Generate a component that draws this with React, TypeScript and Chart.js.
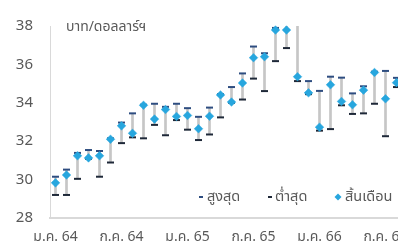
import React, { useEffect, useRef } from 'react';
import { Chart, registerables } from 'chart.js';

Chart.register(...registerables);

const months = [
  'ม.ค. 64', 'ก.พ. 64', 'มี.ค. 64', 'เม.ย. 64', 'พ.ค. 64', 'มิ.ย. 64',
  'ก.ค. 64', 'ส.ค. 64', 'ก.ย. 64', 'ต.ค. 64', 'พ.ย. 64', 'ธ.ค. 64',
  'ม.ค. 65', 'ก.พ. 65', 'มี.ค. 65', 'เม.ย. 65', 'พ.ค. 65', 'มิ.ย. 65',
  'ก.ค. 65', 'ส.ค. 65', 'ก.ย. 65', 'ต.ค. 65', 'พ.ย. 65', 'ธ.ค. 65',
  'ม.ค. 66', 'ก.พ. 66', 'มี.ค. 66', 'เม.ย. 66', 'พ.ค. 66', 'มิ.ย. 66',
  'ก.ค. 66', 'ส.ค. 66',
];

const highs = [
  30.15, 30.52, 31.39, 31.54, 31.49, 32.15,
  32.97, 33.45, 33.9, 33.95, 33.79, 33.95,
  33.72, 33.27, 33.75, 34.45, 34.82, 35.53,
  36.93, 36.58, 37.9, 38.3, 38.4, 35.13,
  34.62, 35.36, 35.31, 34.49, 34.86, 35.62,
  35.66, 35.3,
];

const lows = [
  29.2, 29.2, 30.04, 31.08, 30.15, 30.89,
  31.9, 32.2, 32.15, 32.85, 32.31, 33.1,
  32.6, 32.06, 32.35, 33.24, 34.0, 34.17,
  35.26, 34.61, 36.17, 36.85, 35.13, 34.45,
  32.55, 32.63, 33.87, 33.42, 33.45, 33.95,
  32.26, 34.82,
];

const closes = [
  29.83, 30.24, 31.24, 31.13, 31.24, 32.1,
  32.8, 32.41, 33.87, 33.15, 33.65, 33.29,
  33.34, 32.65, 33.3, 34.41, 34.04, 35.03,
  36.35, 36.4, 37.79, 37.79, 35.36, 34.52,
  32.73, 34.94, 34.07, 33.9, 34.66, 35.58,
  34.21, 35.05,
];

const yTicks = [28, 30, 32, 34, 36, 38];
const unitLabel = 'บาท/ดอลลาร์ฯ';
const legendLabels = ['สูงสุด', 'ต่ำสุด', 'สิ้นเดือน'];

const FONT = "'Noto Sans', 'Noto Sans Thai', 'Open Sans', sans-serif";
const TEXT = '#595959';
const C_HIGH = '#2e4d80';
const C_LOW = '#1e2838';
const C_CLOSE = '#27a6de';
const C_RANGE = '#c6c6c6';

const overlay = {
  id: 'overlay',
  afterDraw(chart: any) {
    const { ctx, chartArea } = chart;
    ctx.save();
    ctx.font = `14px ${FONT}`;
    ctx.fillStyle = TEXT;
    ctx.textBaseline = 'middle';
    ctx.textAlign = 'left';
    ctx.fillText(unitLabel, chartArea.left + 16, chartArea.top + 1);

    ctx.font = `14.5px ${FONT}`;
    const ly = chartArea.bottom - 21;
    const l = chartArea.left;
    // high
    ctx.fillStyle = C_HIGH;
    ctx.fillRect(l + 149, ly - 1, 4, 2);
    ctx.fillStyle = TEXT;
    ctx.fillText(legendLabels[0], l + 157, ly);
    // low
    ctx.fillStyle = C_LOW;
    ctx.fillRect(l + 218, ly - 1, 4, 2);
    ctx.fillStyle = TEXT;
    ctx.fillText(legendLabels[1], l + 225, ly);
    // close
    ctx.fillStyle = C_CLOSE;
    ctx.beginPath();
    const cx = l + 288;
    ctx.moveTo(cx, ly - 3.5);
    ctx.lineTo(cx + 3.5, ly);
    ctx.lineTo(cx, ly + 3.5);
    ctx.lineTo(cx - 3.5, ly);
    ctx.closePath();
    ctx.fill();
    ctx.fillStyle = TEXT;
    ctx.fillText(legendLabels[2], l + 295, ly);
    ctx.restore();
  },
};

export default function App() {
  const ref = useRef<HTMLCanvasElement>(null);
  useEffect(() => {
    const chart = new Chart(ref.current as HTMLCanvasElement, {
      type: 'bar',
      data: {
        labels: months,
        datasets: [
          {
            type: 'line',
            label: legendLabels[2],
            data: closes,
            showLine: false,
            pointStyle: 'rectRot',
            pointRadius: 4.3,
            pointBackgroundColor: C_CLOSE,
            pointBorderColor: C_CLOSE,
            pointBorderWidth: 0.5,
            order: 0,
            clip: false,
          } as any,
          {
            type: 'line',
            label: legendLabels[0],
            data: highs,
            showLine: false,
            pointStyle: 'line',
            pointRadius: 3.5,
            pointBorderColor: C_HIGH,
            pointBorderWidth: 2,
            order: 1,
            clip: 0,
          } as any,
          {
            type: 'line',
            label: legendLabels[1],
            data: lows,
            showLine: false,
            pointStyle: 'line',
            pointRadius: 3.5,
            pointBorderColor: C_LOW,
            pointBorderWidth: 2,
            order: 2,
            clip: 0,
          } as any,
          {
            type: 'bar',
            label: 'range',
            data: lows.map((lo, i) => [lo, highs[i]]),
            backgroundColor: C_RANGE,
            barThickness: 2,
            grouped: false,
            order: 3,
            clip: 0,
          } as any,
        ],
      },
      options: {
        responsive: false,
        animation: false,
        events: [],
        layout: { padding: { top: 18, right: 8, left: 0, bottom: 0 } },
        plugins: { legend: { display: false }, tooltip: { enabled: false } },
        scales: {
          x: {
            offset: true,
            grid: { display: false, drawTicks: false },
            border: { display: true, color: '#d9d9d9', width: 2 },
            ticks: {
              autoSkip: false,
              maxRotation: 0,
              padding: 11,
              color: TEXT,
              font: { family: FONT, size: 14 },
              callback: (_v: any, i: number) => (i % 6 === 0 ? months[i] : ''),
            },
            afterFit: (s: any) => {
              s.height = 30;
            },
          },
          y: {
            min: yTicks[0],
            max: yTicks[yTicks.length - 1],
            afterBuildTicks: (s: any) => {
              s.ticks = yTicks.map((v) => ({ value: v }));
            },
            grid: { display: false, drawTicks: false },
            border: { display: true, color: '#d9d9d9', width: 1 },
            ticks: {
              padding: 17,
              color: TEXT,
              font: { family: FONT, size: 15 },
            },
            afterFit: (s: any) => {
              s.width = 50;
            },
          },
        },
      },
      plugins: [overlay],
    });
    return () => chart.destroy();
  }, []);

  return (
    <div
      style={{
        position: 'fixed',
        left: 0,
        top: 0,
        width: 398,
        height: 248,
        overflow: 'hidden',
        background: '#fff',
      }}
    >
      <canvas ref={ref} width={410} height={248} style={{ width: 410, height: 248, display: 'block' }} />
    </div>
  );
}
